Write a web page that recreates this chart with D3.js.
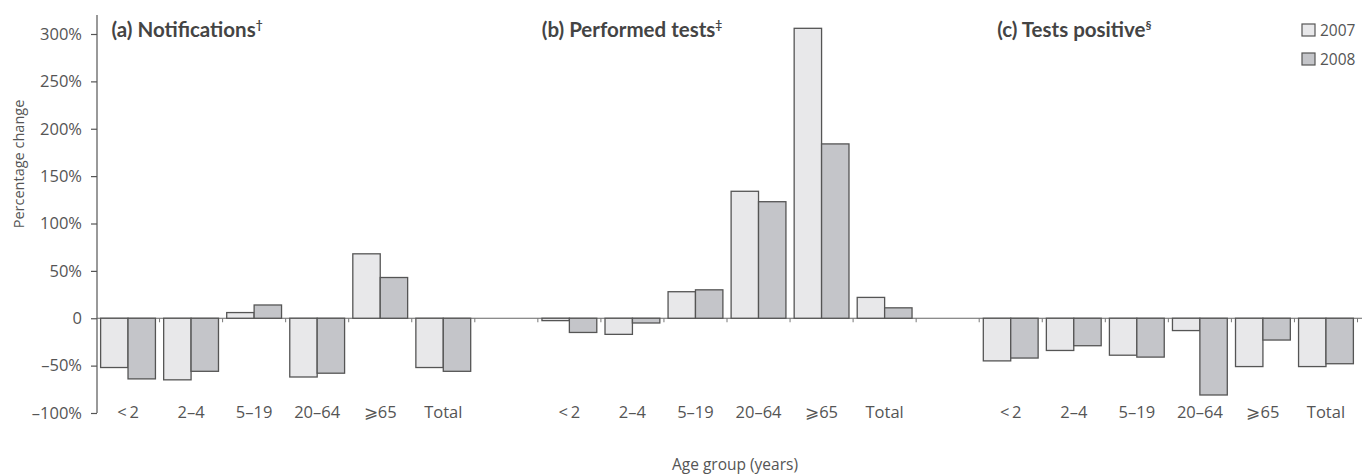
<!DOCTYPE html>
<meta charset="utf-8">
<script src="https://d3js.org/d3.v7.min.js"></script>
<style>
  body { margin: 0; background: #fff; }
  text { font-family: "Open Sans", Lato, sans-serif; fill: #555; }
</style>
<div id="my_dataviz"></div>
<script>

// data (percentage change)
var ageGroups = ["<\u20092", "2–4", "5–19", "20–64", "⩾65", "Total"];
var years = ["2007", "2008"];
var panelTitles = ["(a) Notifications", "(b) Performed tests", "(c) Tests positive"];
var panelMarks = ["†", "‡", "§"];
var notif2007 = [-52, -65, 6, -62, 68, -52];
var notif2008 = [-64, -56, 14, -58, 43, -56];
var tests2007 = [-2.5, -17, 28, 134, 306, 22];
var tests2008 = [-15, -5, 30, 123, 184, 11];
var pos2007 = [-45, -34, -39, -13, -51, -51];
var pos2008 = [-42, -29, -41, -81, -23, -48];
var yTicks = [-100, -50, 0, 50, 100, 150, 200, 250, 300];

var panels = [
  {title: panelTitles[0], mark: panelMarks[0], v: [notif2007, notif2008], tx: 15},
  {title: panelTitles[1], mark: panelMarks[1], v: [tests2007, tests2008], tx: 4},
  {title: panelTitles[2], mark: panelMarks[2], v: [pos2007, pos2008], tx: 18}
];

var width = 1362, height = 474;
var colors = {"2007": "#e8e8ea", "2008": "#c4c5c9"};

var svg = d3.select("#my_dataviz")
  .append("svg")
    .attr("width", width)
    .attr("height", height);

// 20 slots: 6 groups per panel, one empty slot between panels
var slots = d3.range(20);
var x = d3.scaleBand()
  .domain(slots)
  .range([96.5, 1357.5]);

var xInner = d3.scaleBand()
  .domain(years)
  .range([0, x.bandwidth()])
  .paddingOuter(0.15)
  .paddingInner(0);

var y = d3.scaleLinear()
  .domain([-100, 300])
  .range([413, 34]);

// Y axis
var yAxis = svg.append("g")
  .attr("transform", "translate(97,0)")
  .call(d3.axisLeft(y)
    .tickValues(yTicks)
    .tickSize(6)
    .tickPadding(9)
    .tickFormat(function(d) { return d === 0 ? "0" : (d < 0 ? "–" + Math.abs(d) : d) + "%"; }));
yAxis.select(".domain").remove();
yAxis.selectAll(".tick line").attr("stroke", "#555").attr("stroke-width", 1.2);
yAxis.selectAll(".tick text")
  .style("font-size", "16.5px")
  .style("font-family", "'Open Sans', sans-serif")
  .attr("fill", "#555");

svg.append("line")
  .attr("x1", 97).attr("x2", 97)
  .attr("y1", y(320)).attr("y2", y(-100))
  .attr("stroke", "#555").attr("stroke-width", 1.2);

// zero baseline
svg.append("line")
  .attr("x1", 97).attr("x2", width)
  .attr("y1", y(0)).attr("y2", y(0))
  .attr("stroke", "#666").attr("stroke-width", 1.2);

// y title
svg.append("text")
  .attr("transform", "translate(24," + 164 + ") rotate(-90)")
  .attr("text-anchor", "middle")
  .style("font-size", "14.5px")
  .text("Percentage change");

panels.forEach(function(p, pi) {
  var start = pi * 7;
  var g = svg.append("g");

  // group boundary ticks
  var tickSlots = d3.range(start + (pi === 0 ? 1 : 0), start + 7);
  g.selectAll("myTicks")
    .data(tickSlots)
    .enter()
    .append("line")
      .attr("x1", function(d) { return d < 20 ? x(d) : x(19) + x.bandwidth(); })
      .attr("x2", function(d) { return d < 20 ? x(d) : x(19) + x.bandwidth(); })
      .attr("y1", y(0))
      .attr("y2", y(0) + 4)
      .attr("stroke", "#777")
      .attr("stroke-width", 1);

  // bars
  ageGroups.forEach(function(a, i) {
    years.forEach(function(yr, k) {
      var v = p.v[k][i];
      g.append("rect")
        .attr("x", x(start + i) + xInner(yr))
        .attr("width", xInner.bandwidth())
        .attr("y", y(Math.max(0, v)))
        .attr("height", Math.abs(y(v) - y(0)))
        .attr("fill", colors[yr])
        .attr("stroke", "#555")
        .attr("stroke-width", 1.3);
    });
  });

  // age labels
  g.selectAll("myLabels")
    .data(ageGroups)
    .enter()
    .append("text")
      .attr("x", function(d, i) { return x(start + i) + x.bandwidth() / 2; })
      .attr("y", 418)
      .attr("text-anchor", "middle")
      .style("font-size", "16.5px")
      .text(function(d) { return d; });

  // panel title
  var t = g.append("text")
    .attr("x", x(start) + p.tx)
    .attr("y", 37)
    .style("font-family", "Lato, sans-serif")
    .style("font-size", "20.5px")
    .style("font-weight", "bold")
    .style("fill", "#444")
    .text(p.title);
  t.append("tspan")
    .attr("dy", -8)
    .style("font-size", "12px")
    .text(p.mark);
});

// legend
var legend = svg.selectAll("myLegend")
  .data(years)
  .enter()
  .append("g")
    .attr("transform", function(d, i) { return "translate(1302," + (24 + i * 29) + ")"; });
legend.append("rect")
  .attr("width", 13).attr("height", 12)
  .attr("fill", function(d) { return colors[d]; })
  .attr("stroke", "#555")
  .attr("stroke-width", 1.2);
legend.append("text")
  .attr("x", 18).attr("y", 12)
  .style("font-size", "15.5px")
  .text(function(d) { return d; });

// x title
svg.append("text")
  .attr("x", 735)
  .attr("y", 470)
  .attr("text-anchor", "middle")
  .style("font-size", "15.5px")
  .text("Age group (years)");

</script>
